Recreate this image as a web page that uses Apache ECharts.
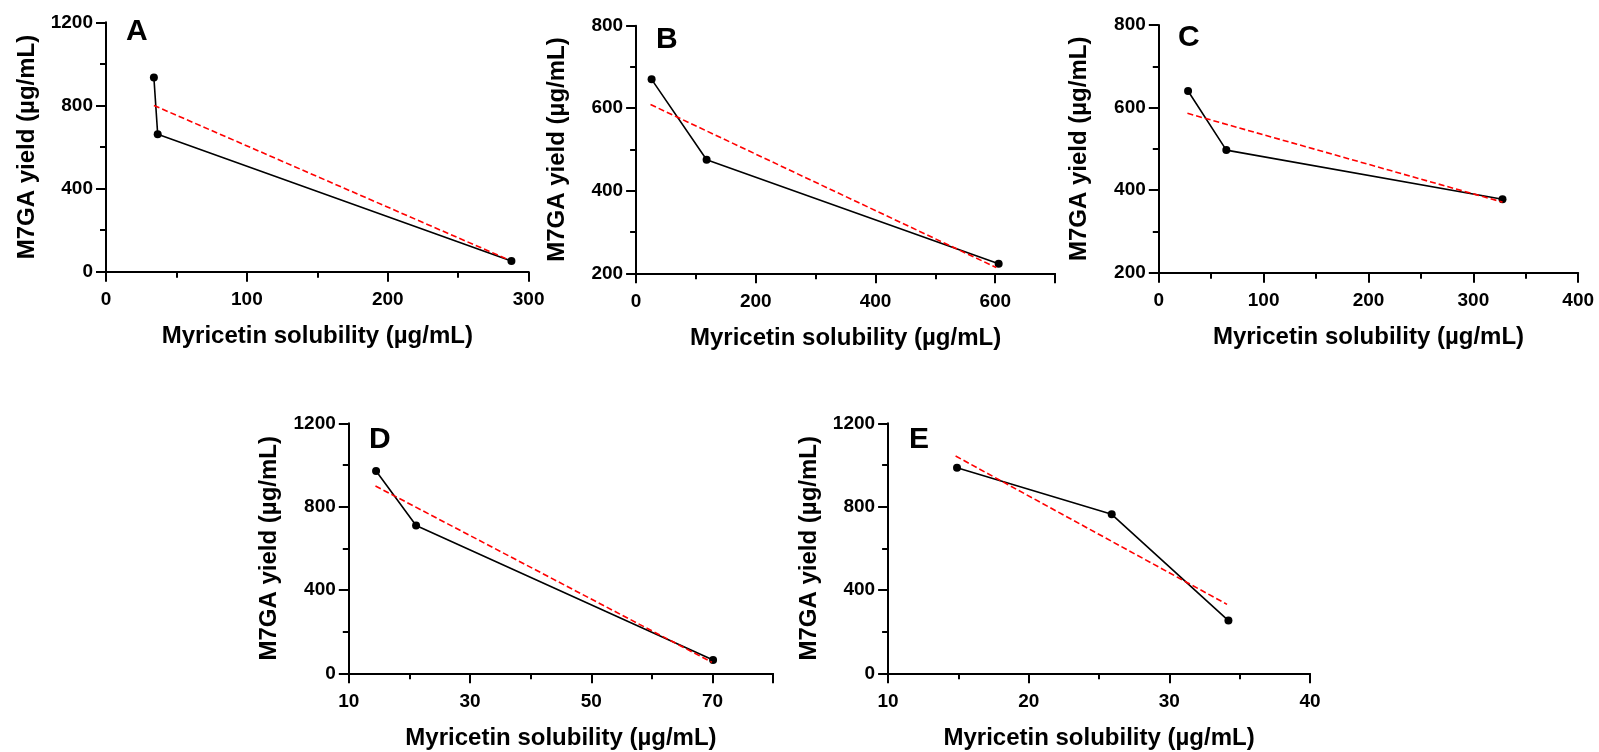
<!DOCTYPE html>
<html><head><meta charset="utf-8">
<script src="https://cdn.jsdelivr.net/npm/echarts@6/dist/echarts.min.js"></script>
<style>html,body{margin:0;padding:0;background:#fff}#c{width:1599px;height:752px}</style>
</head><body><div id="c"></div>
<script>
// ---------- data ----------
const panelLabels = ['A', 'B', 'C', 'D', 'E'];

const solA = [34.0, 36.7, 287.8];
const yieldA = [934, 661, 51];
const fitXA = [34.0, 285.3];
const fitYA = [800, 59];

const solB = [25.9, 117.8, 605.7];
const yieldB = [670, 475, 223];
const fitXB = [24.1, 601.7];
const fitYB = [609, 214];

const solC = [27.9, 64.4, 327.8];
const yieldC = [640, 497, 378];
const fitXC = [27.3, 327.8];
const fitYC = [586, 371];

const solD = [14.5, 21.1, 70.1];
const yieldD = [971, 709, 64];
const fitXD = [14.4, 69.9];
const fitYD = [899, 53];

const solE = [14.9, 25.9, 34.2];
const yieldE = [987, 763, 253];
const fitXE = [14.8, 34.1];
const fitYE = [1043, 331];

// axis ranges / tick steps
const xRanges = [[0, 300], [0, 700], [0, 400], [10, 80], [10, 40]];
const xLabelStep = [100, 200, 100, 20, 10];
const xMinorStep = [50, 100, 50, 10, 5];
const yRanges = [[0, 1200], [200, 800], [200, 800], [0, 1200], [0, 1200]];
const yLabelStep = [400, 200, 200, 400, 400];
const yMinorStep = [200, 100, 100, 200, 200];

const xTitle = 'Myricetin solubility (µg/mL)';
const yTitle = 'M7GA yield (µg/mL)';

// ---------- layout ----------
const FONT = '"Liberation Sans", Arial, sans-serif';
const grids = [
  { left: 106, top: 22.3, width: 422.6, height: 249.4 },
  { left: 636.1, top: 25.7, width: 419, height: 247.6 },
  { left: 1158.8, top: 25, width: 419.4, height: 247.7 },
  { left: 348.8, top: 423.3, width: 424.3, height: 250 },
  { left: 888.1, top: 423.3, width: 421.9, height: 250 }
];
const letterPos = [[126, 17], [656, 25], [1178, 23], [369, 425], [909, 425]];

const sols = [solA, solB, solC, solD, solE];
const yields = [yieldA, yieldB, yieldC, yieldD, yieldE];
const fitXs = [fitXA, fitXB, fitXC, fitXD, fitXE];
const fitYs = [fitYA, fitYB, fitYC, fitYD, fitYE];

function zip(a, b) { return a.map((v, i) => [v, b[i]]); }
function stepFormatter(min, step) {
  return function (v) {
    const k = (v - min) / step;
    return Math.abs(k - Math.round(k)) < 1e-6 ? String(v) : '';
  };
}

const xAxes = [], yAxes = [], series = [];
grids.forEach((g, i) => {
  g.outerBoundsMode = 'none';
  g.containLabel = false;
  // major x axis
  xAxes.push({
    type: 'value', gridIndex: i, position: 'bottom',
    min: xRanges[i][0], max: xRanges[i][1], interval: xLabelStep[i],
    name: xTitle, nameLocation: 'middle', nameGap: 53,
    nameTextStyle: { fontFamily: FONT, fontWeight: 'bold', fontSize: 24, color: '#000' },
    axisLine: { show: true, onZero: false, lineStyle: { color: '#000', width: 2 } },
    axisTick: { show: true, length: 10, lineStyle: { color: '#000', width: 2 } },
    axisLabel: { margin: 19, fontFamily: FONT, fontWeight: 'bold', fontSize: 19, color: '#000',
      formatter: stepFormatter(xRanges[i][0], xLabelStep[i]) },
    splitLine: { show: false }
  });
  // minor x ticks
  xAxes.push({
    type: 'value', gridIndex: i, position: 'bottom',
    min: xRanges[i][0], max: xRanges[i][1], interval: xMinorStep[i],
    axisLine: { show: false, onZero: false },
    axisTick: { show: true, length: 6, lineStyle: { color: '#000', width: 2 } },
    axisLabel: { show: false },
    splitLine: { show: false }
  });
  // major y axis
  yAxes.push({
    type: 'value', gridIndex: i, position: 'left',
    min: yRanges[i][0], max: yRanges[i][1], interval: yLabelStep[i],
    name: yTitle, nameLocation: 'middle', nameGap: 67,
    nameTextStyle: { fontFamily: FONT, fontWeight: 'bold', fontSize: 24, color: '#000' },
    axisLine: { show: true, onZero: false, lineStyle: { color: '#000', width: 2 } },
    axisTick: { show: true, length: 10, lineStyle: { color: '#000', width: 2 } },
    axisLabel: { margin: 13, fontFamily: FONT, fontWeight: 'bold', fontSize: 19, color: '#000',
      formatter: stepFormatter(yRanges[i][0], yLabelStep[i]) },
    splitLine: { show: false }
  });
  // minor y ticks
  yAxes.push({
    type: 'value', gridIndex: i, position: 'left',
    min: yRanges[i][0], max: yRanges[i][1], interval: yMinorStep[i],
    axisLine: { show: false, onZero: false },
    axisTick: { show: true, length: 6, lineStyle: { color: '#000', width: 2 } },
    axisLabel: { show: false },
    splitLine: { show: false }
  });
  series.push({
    type: 'line', xAxisIndex: 2 * i, yAxisIndex: 2 * i,
    data: zip(sols[i], yields[i]),
    symbol: 'circle', symbolSize: 8,
    lineStyle: { color: '#000', width: 1.6 },
    itemStyle: { color: '#000' },
    z: 2
  });
  series.push({
    type: 'line', xAxisIndex: 2 * i, yAxisIndex: 2 * i,
    data: zip(fitXs[i], fitYs[i]),
    symbol: 'none',
    lineStyle: { color: '#ff0000', width: 1.6, type: [6, 3] },
    z: 3
  });
});

const graphics = panelLabels.map((t, i) => ({
  type: 'text', left: letterPos[i][0], top: letterPos[i][1],
  style: { text: t, font: 'bold 30px ' + FONT, fill: '#000' }
}));

const chart = echarts.init(document.getElementById('c'), null, { renderer: 'canvas' });
chart.setOption({
  animation: false,
  backgroundColor: '#fff',
  grid: grids,
  xAxis: xAxes,
  yAxis: yAxes,
  series: series,
  graphic: graphics
});
</script>
</body></html>
